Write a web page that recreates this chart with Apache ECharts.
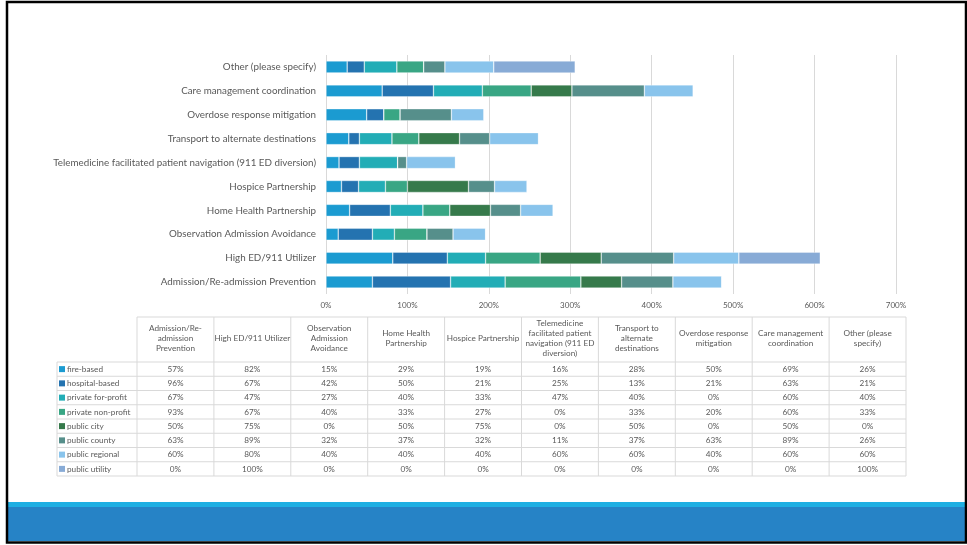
<!DOCTYPE html>
<html>
<head>
<meta charset="utf-8">
<script src="https://cdn.jsdelivr.net/npm/echarts@6/dist/echarts.min.js"></script>
<style>
html,body{margin:0;padding:0;background:#fff;}
#main{width:967px;height:545px;}
</style>
</head>
<body>
<div id="main"></div>
<script>
// Categories (bottom to top on the chart, left to right in the table)
const categories = [
  'Admission/Re-admission Prevention',
  'High ED/911 Utilizer',
  'Observation Admission Avoidance',
  'Home Health Partnership',
  'Hospice Partnership',
  'Telemedicine facilitated patient navigation (911 ED diversion)',
  'Transport to alternate destinations',
  'Overdose response mitigation',
  'Care management coordination',
  'Other (please specify)'
];
const tableHeaders = [
  'Admission/Re-\nadmission\nPrevention',
  'High ED/911 Utilizer',
  'Observation\nAdmission\nAvoidance',
  'Home Health\nPartnership',
  'Hospice Partnership',
  'Telemedicine\nfacilitated patient\nnavigation (911 ED\ndiversion)',
  'Transport to\nalternate\ndestinations',
  'Overdose response\nmitigation',
  'Care management\ncoordination',
  'Other (please\nspecify)'
];
const seriesNames = ['fire-based','hospital-based','private for-profit','private non-profit','public city','public county','public regional','public utility'];
const fireBased        = [57, 82, 15, 29, 19, 16, 28, 50, 69, 26];
const hospitalBased    = [96, 67, 42, 50, 21, 25, 13, 21, 63, 21];
const privateForProfit = [67, 47, 27, 40, 33, 47, 40, 0, 60, 40];
const privateNonProfit = [93, 67, 40, 33, 27, 0, 33, 20, 60, 33];
const publicCity       = [50, 75, 0, 50, 75, 0, 50, 0, 50, 0];
const publicCounty     = [63, 89, 32, 37, 32, 11, 37, 63, 89, 26];
const publicRegional   = [60, 80, 40, 40, 40, 60, 60, 40, 60, 60];
const publicUtility    = [0, 100, 0, 0, 0, 0, 0, 0, 0, 100];
const seriesValues = [fireBased, hospitalBased, privateForProfit, privateNonProfit, publicCity, publicCounty, publicRegional, publicUtility];
const xTicks = [0, 100, 200, 300, 400, 500, 600, 700];

const colors = ['#1b9bd1','#2473b0','#22adb6','#39a684','#367a4b','#568f8b','#89c4ec','#88abd6'];
const FONT = 'Lato, "Open Sans", sans-serif';
const TXT = '#595959';
const LINE = '#d9d9d9';

const chart = echarts.init(document.getElementById('main'), null, {renderer:'canvas'});

const series = seriesNames.map((n, i) => ({
  name: n,
  type: 'bar',
  stack: 'total',
  barWidth: 12,
  data: seriesValues[i],
  itemStyle: {color: colors[i], borderColor: 'rgba(255,255,255,0.55)', borderWidth: 0.6},
  emphasis: {disabled: true},
  animation: false
}));

// Data table built from the same arrays
const graphic = [];
// frame and footer bands
graphic.push({type:'rect', shape:{x:8,y:502,width:957,height:5}, style:{fill:'#1eafe3'}, silent:true});
graphic.push({type:'rect', shape:{x:8,y:507,width:957,height:34}, style:{fill:'#2683c6'}, silent:true});
graphic.push({type:'rect', shape:{x:7,y:2,width:959,height:540.5}, style:{fill:'none', stroke:'#000', lineWidth:2.5}, silent:true});

const tX0 = 137, colW = 76.9, legX = 57;
const hTop = 317, hBot = 362, rowH = 14.25;
const nCols = categories.length, nRows = seriesNames.length;
const tRight = tX0 + colW * nCols;
const tBottom = hBot + rowH * nRows;
function line(x1,y1,x2,y2){
  graphic.push({type:'line', shape:{x1,y1,x2,y2}, style:{stroke:LINE, lineWidth:1}, silent:true});
}
line(tX0, hTop, tRight, hTop);
for (let r = 0; r <= nRows; r++) line(legX, hBot + r*rowH, tRight, hBot + r*rowH);
line(legX, hBot, legX, tBottom);
for (let c = 0; c <= nCols; c++) line(tX0 + c*colW, hTop, tX0 + c*colW, tBottom);
function text(t, x, y, align){
  graphic.push({type:'text', x:x, y:y, silent:true,
    style:{text:t, fill:TXT, font:'8.2px ' + FONT, fontSize:8.2, fontFamily:FONT, lineHeight:10,
      textAlign:align, align:align, textVerticalAlign:'middle', verticalAlign:'middle'}});
}
for (let c = 0; c < nCols; c++) {
  text(tableHeaders[c], tX0 + (c+0.5)*colW, (hTop+hBot)/2 - 1, 'center');
}
for (let r = 0; r < nRows; r++) {
  const cy = hBot + (r+0.5)*rowH;
  graphic.push({type:'rect', shape:{x:59, y:cy-3, width:6, height:6}, style:{fill:colors[r]}, silent:true});
  text(seriesNames[r], 67, cy, 'left');
  for (let c = 0; c < nCols; c++) {
    text(seriesValues[r][c] + '%', tX0 + (c+0.5)*colW, cy, 'center');
  }
}

chart.setOption({
  animation: false,
  color: colors,
  grid: {left: 326, right: 71, top: 55, height: 239, containLabel: false},
  xAxis: {
    type: 'value', min: xTicks[0], max: xTicks[xTicks.length-1], interval: 100,
    axisLine: {show: false}, axisTick: {show: false},
    splitLine: {show: true, lineStyle: {color: LINE, width: 1}},
    axisLabel: {formatter: '{value}%', color: TXT, fontSize: 8, fontFamily: FONT, margin: 7}
  },
  yAxis: {
    type: 'category', data: categories,
    axisLine: {show: false}, axisTick: {show: false},
    axisLabel: {color: TXT, fontSize: 9.8, fontFamily: FONT, margin: 10}
  },
  series: series,
  graphic: graphic
});
</script>
</body>
</html>
